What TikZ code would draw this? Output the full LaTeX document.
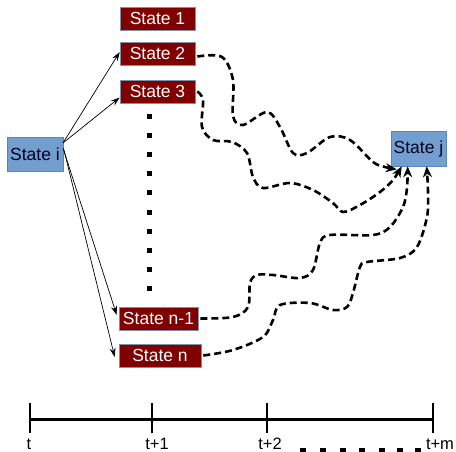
\documentclass[tikz,border=0pt]{standalone}
\usepackage{fontspec}
\setmainfont{Liberation Sans}
\usetikzlibrary{arrows.meta}
\definecolor{sred}{HTML}{800000}
\definecolor{sredborder}{HTML}{8090A8}
\definecolor{sblue}{HTML}{729FCF}
\definecolor{sblueborder}{HTML}{5A86BF}
\tikzset{
  redstate/.style={draw=sredborder, line width=0.6pt, fill=sred, text=white, inner sep=0pt, minimum height=23pt, font=\fontsize{17.5}{20}\selectfont},
  bluestate/.style={draw=sblueborder, line width=0.6pt, fill=sblue, text=black!85!blue, inner sep=0pt, font=\fontsize{17.5}{20}\selectfont},
  solidarrow/.style={-{Stealth[length=9pt,width=6pt]}, line width=0.7pt},
  wavy/.style={dash pattern=on 7pt off 4pt, line width=2.6pt, -{Stealth[length=11pt,width=9pt]}},
  ticklabel/.style={anchor=base, inner sep=0pt, font=\fontsize{16.5}{18}\selectfont}
}
\begin{document}
\begin{tikzpicture}[x=1pt,y=-1pt]
\useasboundingbox (0,0) rectangle (456,452);
% states
\node[redstate, minimum width=75pt] (s1) at (157.5,18.5) {State 1};
\node[redstate, minimum width=75pt] (s2) at (157.5,53.5) {State 2};
\node[redstate, minimum width=75pt] (s3) at (157.5,91.5) {State 3};
\node[redstate, minimum width=79pt] (snm) at (158.5,318.5) {State n-1};
\node[redstate, minimum width=82pt] (sn) at (160,355.5) {State n};
\node[bluestate, minimum width=56pt, minimum height=34pt] (si) at (35,154) {State i};
\node[bluestate, minimum width=55pt, minimum height=35pt] (sj) at (418.5,148.5) {State j};
% vertical dots
\foreach \yy in {117,136,155,174,193,212,231,250,269,288}
  \fill (146.5,\yy-2.5) rectangle (151.5,\yy+2.5);
% solid arrows
\coordinate (ia) at (63,143);
\coordinate (ib) at (63,148);
\coordinate (ic) at (64,150);
\draw[solidarrow] (ia) -- ([yshift=1.5pt]s2.west);
\draw[solidarrow] (ia) -- ([yshift=-6pt]s3.west);
\draw[solidarrow] (ib) -- ([xshift=-2pt,yshift=3.5pt]snm.west);
\draw[solidarrow] (ic) -- ([xshift=-4pt,yshift=-1.5pt]sn.west);
% wavy dashed connectors
\draw[wavy] plot[smooth, tension=0.55] coordinates {([xshift=2pt,yshift=-3pt]s2.east) (222,57) (233,80) (233,116) (243,125) (267,112) (280,127) (293,153) (307,153) (330,137) (350,140) (373,162) (385,167) ([xshift=6pt,yshift=-3pt]sj.south west)};
\draw[wavy] plot[smooth, tension=0.55] coordinates {([xshift=2pt]s3.east) (203,100) (202,127) (213,140) (232,142) (247,153) (253,177) (263,188) (290,183) (313,190) (333,203) (343,212) (360,205) (380,192) (393,180) ([xshift=11pt]sj.south west)};
\draw[wavy] plot[smooth, tension=0.55] coordinates {([xshift=2pt]snm.east) (233,317) (248,307) (250,283) (257,275) (273,275) (300,278) (313,270) (320,243) (330,235) (373,235) (390,227) (403,207) (407,188) ([xshift=17pt]sj.south west)};
\draw[wavy] plot[smooth, tension=0.55] coordinates {([xshift=2pt]sn.east) (233,350) (263,337) (273,320) (280,305) (310,303) (333,310) (347,307) (353,293) (360,267) (367,262) (400,258) (417,247) (427,217) (428,192) ([xshift=36pt]sj.south west)};
% timeline
\draw[line width=2.2pt] (30,419.5) -- (433,419.5);
\foreach \xx in {30,152,267,433}
  \draw[line width=2pt] (\xx,403) -- (\xx,433);
\node[ticklabel] (lt) at (29,449.5) {t};
\node[ticklabel] (lt1) at (157,449.5) {t+1};
\node[ticklabel] (lt2) at (270,449.5) {t+2};
\node[ticklabel] (ltm) at (440,449.5) {t+m};
\foreach \xx in {303,323,343,362,382,400,418}
  \fill (\xx-3,447.5) rectangle (\xx+3,453);
\end{tikzpicture}
\end{document}
